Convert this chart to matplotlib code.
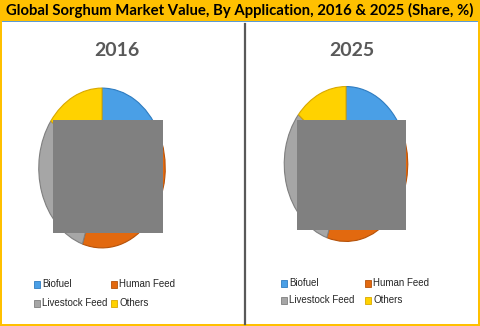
import matplotlib
matplotlib.use("Agg")
import matplotlib.pyplot as plt
from matplotlib.patches import Rectangle
from matplotlib.lines import Line2D

# Share of market value by application (%)
categories = ["Biofuel", "Human Feed", "Livestock Feed", "Others"]
share_2016 = [17.5, 37.5, 30.0, 15.0]
share_2025 = [19.5, 35.5, 31.0, 14.0]
years = ["2016", "2025"]
title = "Global Sorghum Market Value, By Application, 2016 & 2025 (Share, %)"

colors = ["#4A9FE6", "#E2690F", "#A6A6A6", "#FFD200"]
edge_colors = ["#2F7CC0", "#B5520A", "#7F7F7F", "#D9A800"]

W, H = 480, 326
fig = plt.figure(figsize=(W / 100, H / 100), dpi=100)
fig.patch.set_facecolor("white")


def px_box(x0, y0, x1, y1):
    """Pixel box (top-left origin) -> figure fraction [l, b, w, h]."""
    return [x0 / W, (H - y1) / H, (x1 - x0) / W, (y1 - y0) / H]


def frect(x0, y0, x1, y1, **kw):
    l, b, w, h = px_box(x0, y0, x1, y1)
    fig.patches.append(Rectangle((l, b), w, h, transform=fig.transFigure, **kw))


# frame and header bar
frect(0, 0, W, 21, facecolor="#FFC000", edgecolor="none", zorder=0)
frect(0, 21, W, 22, facecolor="#5B9BD5", edgecolor="none", zorder=0)
frect(0, 21, 2, H, facecolor="#FFC000", edgecolor="none", zorder=0)
frect(W - 2, 21, W, H, facecolor="#FFC000", edgecolor="none", zorder=0)
frect(0, H - 2, W, H, facecolor="#FFC000", edgecolor="none", zorder=0)

# header text, scaled to span the bar
t = fig.text(0.5, 1 - 10.5 / H, title, ha="center", va="center",
             fontsize=11, fontweight="bold", family="Lato", color="black")
fig.canvas.draw()
bb = t.get_window_extent()
t.set_fontsize(11 * 466 / bb.width)

# divider between the two panels
fig.add_artist(Line2D([244.5 / W, 244.5 / W], [1 - 24 / H, 1 - 324 / H],
                      transform=fig.transFigure, color="#595959", lw=1.6))

panels = [
    dict(vals=share_2016, year=years[0], pie=(37.5, 86.5, 166.5, 249.5),
         year_xy=(117, 50), box=(53, 120, 163, 233),
         leg_cols=(42, 119), leg_rows=(284, 303)),
    dict(vals=share_2025, year=years[1], pie=(283, 85, 409, 243),
         year_xy=(352, 50), box=(297, 120, 406, 230),
         leg_cols=(289, 373), leg_rows=(283, 300)),
]

for p in panels:
    ax = fig.add_axes(px_box(*p["pie"]))
    wedges, _ = ax.pie(p["vals"], colors=colors, startangle=90,
                       counterclock=False, radius=1.0,
                       wedgeprops=dict(linewidth=0.8))
    for w, ec in zip(wedges, edge_colors):
        w.set_edgecolor(ec)
    ax.set_xlim(-1.02, 1.02)
    ax.set_ylim(-1.02, 1.02)
    ax.set_aspect("auto")
    ax.axis("off")

    fig.text(p["year_xy"][0] / W, 1 - p["year_xy"][1] / H, p["year"],
             ha="center", va="center", fontsize=14, fontweight="bold",
             family="Lato", color="#595959")

    # grey panel over the chart centre
    frect(*p["box"], facecolor="#808080", edgecolor="none", zorder=5)

    # legend: two columns, two rows
    for i, name in enumerate(categories):
        cx = p["leg_cols"][i % 2]
        cy = p["leg_rows"][i // 2]
        frect(cx - 8, cy - 3.5, cx - 2, cy + 3.5, facecolor=colors[i],
              edgecolor=edge_colors[i], linewidth=0.6, zorder=3)
        fig.text(cx / W, 1 - cy / H, name, ha="left", va="center",
                 fontsize=7, family="Liberation Sans", color="#262626")

fig.savefig("out.png", dpi=100)
